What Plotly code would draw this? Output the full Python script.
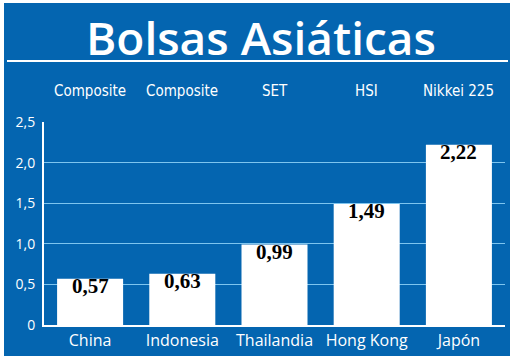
import plotly.graph_objects as go

# ---- data ----
title_text = "Bolsas Asiáticas"
countries = ["China", "Indonesia", "Thailandia", "Hong Kong", "Japón"]
indices = ["Composite", "Composite", "SET", "HSI", "Nikkei 225"]
values = [0.57, 0.63, 0.99, 1.49, 2.22]
y_tickvals = [0, 0.5, 1.0, 1.5, 2.0, 2.5]
y_ticktext = ["0", "0,5", "1,0", "1,5", "2,0", "2,5"]

# ---- layout geometry ----
W, H = 520, 356
ML, MR, MT, MB = 44, 15, 122, 31
PW = W - ML - MR
PH = H - MT - MB


def px(x):
    return (x - ML) / PW


def py(y):
    return (H - MB - y) / PH


BLUE = "#0465b0"
GRID = "#7ec5ef"

value_text = [f"{v:.2f}".replace(".", ",") for v in values]

fig = go.Figure()
fig.add_trace(go.Bar(
    x=countries, y=values,
    marker=dict(color="white", line=dict(width=0)),
    hoverinfo="skip",
))

annotations = []
for c, v, t in zip(countries, values, value_text):
    annotations.append(dict(
        x=c, y=v, xref="x", yref="y", text=t, showarrow=False,
        yanchor="top", yshift=7,
        font=dict(family="Liberation Serif", size=21, color="black", weight="bold"),
    ))
for c, t in zip(countries, indices):
    annotations.append(dict(
        x=c, y=py(91), xref="x", yref="paper", text=t, showarrow=False,
        yanchor="middle",
        font=dict(family="DejaVu Sans Condensed, DejaVu Sans", size=15,
                  color="white"),
    ))
annotations.append(dict(
    x=px(261), y=py(37), xref="paper", yref="paper", text=title_text,
    showarrow=False, xanchor="center", yanchor="middle",
    font=dict(family="Open Sans", size=46, color="white", weight=600),
))

shapes = [
    dict(type="rect", xref="paper", yref="paper",
         x0=px(4), x1=px(510), y0=py(360), y1=py(3),
         fillcolor=BLUE, line=dict(width=0), layer="below"),
    dict(type="line", xref="paper", yref="paper",
         x0=px(7), x1=px(508), y0=py(61), y1=py(61),
         line=dict(color="white", width=2), layer="above"),
]

fig.update_layout(
    width=W, height=H, autosize=False,
    margin=dict(l=ML, r=MR, t=MT, b=MB, pad=0, autoexpand=False),
    paper_bgcolor="white", plot_bgcolor="rgba(0,0,0,0)",
    showlegend=False, bargap=0.284,
    annotations=annotations, shapes=shapes,
    xaxis=dict(
        type="category", range=[-0.5, 4.5], automargin=False,
        showline=True, linecolor="white", linewidth=2,
        showgrid=False, zeroline=False, ticks="",
        tickfont=dict(family="Open Sans", size=16, color="white"),
        ticklabelstandoff=0,
    ),
    yaxis=dict(
        range=[0, 2.5], tickvals=y_tickvals, ticktext=y_ticktext,
        automargin=False,
        showgrid=True, gridcolor=GRID, gridwidth=1,
        showline=True, linecolor="white", linewidth=2,
        zeroline=False, ticks="",
        tickfont=dict(family="Open Sans", size=14, color="white"),
        ticklabelstandoff=4,
    ),
)

fig.write_html(
    "out.html",
    config={"displayModeBar": False},
    post_script="document.body.style.margin='0';document.body.style.overflow='hidden';",
)
